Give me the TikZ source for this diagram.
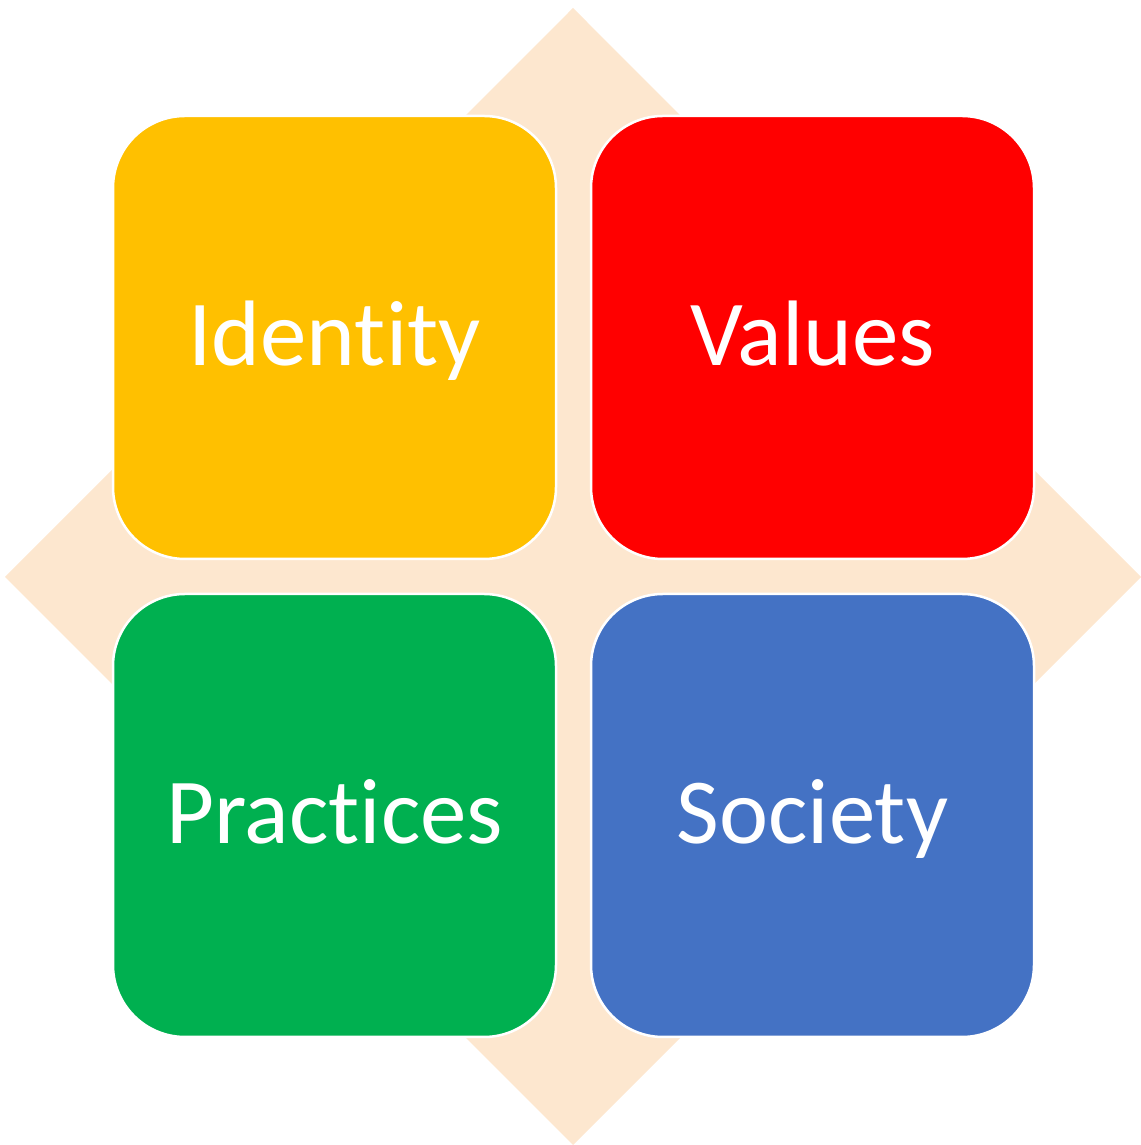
\documentclass[tikz,border=0pt]{standalone}
\usepackage{fontspec}
\setmainfont{Carlito}[Ligatures=NoCommon,RawFeature=-liga]
\definecolor{peach}{HTML}{FDE7CF}
\definecolor{cyellow}{HTML}{FFC000}
\definecolor{cred}{HTML}{FF0000}
\definecolor{cgreen}{HTML}{00B050}
\definecolor{cblue}{HTML}{4472C4}
\tikzset{
  quad/.style={draw=white, line width=2.5pt, rounded corners=72pt, minimum width=443pt, minimum height=443pt, inner sep=0pt, text=white, text height=74pt, text depth=17pt, font=\fontsize{93}{100}\selectfont}
}
\begin{document}
\begin{tikzpicture}[x=1pt,y=1pt]
\useasboundingbox (0,0) rectangle (1140,1145);
\fill[peach] (573,1137) -- (1141,568) -- (573,0) -- (5,568) -- cycle;
\node[quad, fill=cyellow] (identity) at (334.5,807.5) {Identity};
\node[quad, fill=cred] (values) at (812.5,807.5) {Values};
\node[quad, fill=cgreen] (practices) at (334.5,329.5) {Practices};
\node[quad, fill=cblue] (society) at (812.5,329.5) {Society};
\end{tikzpicture}
\end{document}
